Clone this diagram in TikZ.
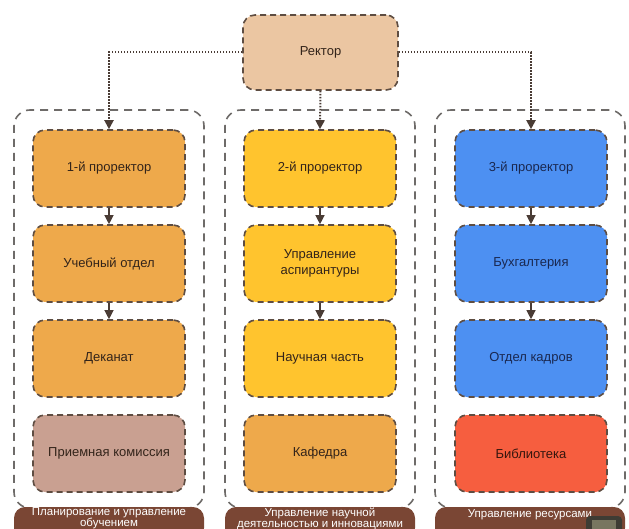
\documentclass[tikz,border=0pt]{standalone}
\usepackage{fontspec}
\setmainfont{Liberation Sans}
\usetikzlibrary{arrows.meta}

\definecolor{boxline}{HTML}{5E4D42}
\definecolor{grpline}{HTML}{6E6B69}
\definecolor{ink}{HTML}{33241A}
\definecolor{inkblue}{HTML}{1A2850}
\definecolor{inkred}{HTML}{36160E}
\definecolor{rectorfill}{HTML}{EBC6A2}
\definecolor{orangefill}{HTML}{EEA94B}
\definecolor{rosefill}{HTML}{C9A091}
\definecolor{yellowfill}{HTML}{FFC42E}
\definecolor{bluefill}{HTML}{4D90F2}
\definecolor{redfill}{HTML}{F65E3F}
\definecolor{barfill}{HTML}{7A4634}
\definecolor{linkcol}{HTML}{4A3C35}

\begin{document}
\begin{tikzpicture}[x=1pt,y=-1pt,
  unitbox/.style={draw=boxline, line width=1.6pt, dash pattern=on 6pt off 4pt,
    rounded corners=12pt, minimum width=152pt, minimum height=77pt,
    inner sep=0pt, align=center, text=ink,
    font=\fontsize{13}{15.5}\selectfont},
  groupbox/.style={draw=grpline, line width=1.6pt, dash pattern=on 8pt off 6pt,
    rounded corners=16pt, minimum width=190pt, minimum height=398pt, inner sep=0pt},
  groupbar/.style={fill=barfill, rounded corners=11pt, minimum width=190pt,
    minimum height=32pt, inner sep=0pt},
  bartext/.style={text=white, align=center, inner sep=0pt,
    font=\fontsize{11.5}{11}\selectfont},
  tip/.style={-{Triangle[length=9pt,width=9pt]}},
  steplink/.style={tip, draw=linkcol, line width=1.2pt},
  toplink/.style={tip, draw=linkcol, line width=2pt,
    dash pattern=on 1.6pt off 1.4pt},
]
\useasboundingbox (0,0) rectangle (629,529);
\clip (0,0) rectangle (629,529);

% group frames and their caption bars
\node[groupbox] (grp1) at (109,309) {};
\node[groupbox] (grp2) at (320,309) {};
\node[groupbox] (grp3) at (530,309) {};

\node[groupbar] (bar1) at (109,523) {};
\node[groupbar] (bar2) at (320,523) {};
\node[groupbar] (bar3) at (530,523) {};
\node[bartext] (cap1) at (109,518.5) {Планирование и  управление\\обучением};
\node[bartext] (cap2) at (320,518.5) {Управление научной\\деятельностью и инновациями};
\node[bartext] (cap3) at (530,515) {Управление ресурсами};

% rector
\node[unitbox, fill=rectorfill, minimum width=155pt, minimum height=75pt] (rector) at (320.5,52.5) {Ректор};

% column 1
\node[unitbox, fill=orangefill] (b11) at (109,168.5) {1-й проректор};
\node[unitbox, fill=orangefill] (b12) at (109,263.5) {Учебный отдел};
\node[unitbox, fill=orangefill] (b13) at (109,358.5) {Деканат};
\node[unitbox, fill=rosefill]   (b14) at (109,453.5) {Приемная комиссия};

% column 2
\node[unitbox, fill=yellowfill] (b21) at (320,168.5) {2-й проректор};
\node[unitbox, fill=yellowfill] (b22) at (320,263.5) {Управление\\аспирантуры};
\node[unitbox, fill=yellowfill] (b23) at (320,358.5) {Научная часть};
\node[unitbox, fill=orangefill] (b24) at (320,453.5) {Кафедра};

% column 3
\node[unitbox, fill=bluefill, text=inkblue] (b31) at (531,168.5) {3-й проректор};
\node[unitbox, fill=bluefill, text=inkblue] (b32) at (531,263.5) {Бухгалтерия};
\node[unitbox, fill=bluefill, text=inkblue] (b33) at (531,358.5) {Отдел кадров};
\node[unitbox, fill=redfill, text=inkred]   (b34) at (531,453.5) {Библиотека};

% links from the rector
\draw[toplink] (rector.west) -| (b11.north);
\draw[toplink] (rector.south) -- (b21.north);
\draw[toplink] (rector.east) -| (b31.north);

% links inside the columns
\foreach \c in {1,2,3}{
  \draw[steplink] (b\c1.south) -- (b\c2.north);
  \draw[steplink] (b\c2.south) -- (b\c3.north);
}

% small overlay badge in the lower right corner
\fill[fill={rgb,255:red,62;green,60;blue,52}, rounded corners=4pt] (586,516) rectangle (622,534);
\fill[fill={rgb,255:red,120;green,118;blue,96}] (592,520) rectangle (616,534);
\end{tikzpicture}
\end{document}
